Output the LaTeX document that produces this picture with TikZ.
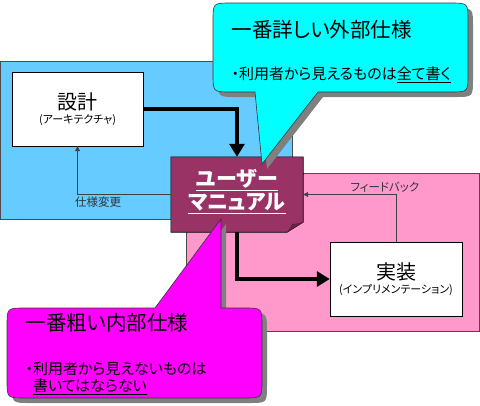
\documentclass[tikz,border=0pt]{standalone}
\usepackage{fontspec}
\usepackage{tikz}
\usetikzlibrary{arrows.meta,shadows}
\newfontfamily\jp[RawFeature=+palt]{Noto Sans CJK JP}
\definecolor{designblue}{RGB}{102,204,255}
\definecolor{implpink}{RGB}{255,153,204}
\definecolor{manualred}{RGB}{153,51,102}
\definecolor{folddark}{RGB}{102,32,64}
\definecolor{extcyan}{RGB}{0,255,255}
\definecolor{intmagenta}{RGB}{255,0,255}

\begin{document}
\begin{tikzpicture}[x=1pt, y=-1pt, font=\jp,
    box/.style={draw, fill=white, minimum width=131pt, minimum height=74pt, align=center, inner sep=0pt, font=\jp\fontsize{11}{13}\selectfont},
    flow/.style={-{Triangle[length=13pt,width=15pt]}, line width=4pt},
    back/.style={-{Triangle[length=5pt,width=5pt]}, line width=0.8pt, black!75},
    loopnote/.style={text=black!80, inner sep=2pt, font=\jp\fontsize{11.5}{12}\selectfont},
    callout/.style={draw=black!80, line width=0.6pt, drop shadow={shadow xshift=5pt, shadow yshift=-5pt, fill=black!50, opacity=1}},
    bigtext/.style={anchor=west, font=\jp\fontsize{20.5}{24}\selectfont},
    notetext/.style={anchor=west, align=left, font=\jp\fontsize{15}{17}\selectfont}]
    \useasboundingbox (0,0) rectangle (480,405);
    \fill[white] (0,0) rectangle (480,405);
    % Areas
    \draw[black!70, fill=designblue] (0.5,61) rectangle (292,219);
    \draw[black!70, fill=implpink] (186,173) rectangle (479,331);
    % Boxes
    \node[box] (sekkei) at (77.5,109) {{\fontsize{20}{20}\selectfont 設計}\\[1.5pt](アーキテクチャ)};
    \node[box, minimum width=132pt] (jisso) at (396,279) {{\fontsize{20}{20}\selectfont 実装}\\[1.5pt](インプリメンテーション)};
    \node[minimum width=132pt, minimum height=75pt] (manual) at (237,194.5) {};
    \filldraw[fill=manualred, draw=black, line width=0.6pt] (manual.north west) -- (manual.north east)
        -- ([yshift=10pt]manual.south east) -- ([xshift=-16pt]manual.south east) -- (manual.south west) -- cycle;
    \fill[folddark] ([xshift=-16pt]manual.south east) -- ([xshift=-11pt,yshift=8pt]manual.south east)
        -- ([yshift=10pt]manual.south east) -- cycle;
    \node[text=white, align=center, font=\jp\bfseries\fontsize{21}{23}\selectfont] (manualtext) at ([yshift=3pt]manual.center)
        {\underline{ユーザー}\\\underline{マニュアル}};
    % Connectors
    \draw[flow] (sekkei.east) -| (manual.north);
    \draw[flow] (manual.south) |- (jisso.west);
    \draw[back] (manual.west) -| (sekkei.south) node[loopnote, pos=0.39, below] {仕様変更};
    \draw[back] (jisso.north) |- (manual.east) node[loopnote, pos=0.56, above] {フィードバック};
    % Callout: external spec
    \path[callout, fill=extcyan] (255,92) -- (262,164) -- (318,92) -- (450,92) .. controls (468,92) .. (468,74)
        -- (468,21) .. controls (468,3) .. (450,3) -- (231,3) .. controls (213,3) .. (213,21)
        -- (213,74) .. controls (213,92) .. (231,92) -- cycle;
    \node[bigtext] (exttitle) at (228,30) {一番詳しい外部仕様};
    \node[notetext] (extnote) at (228,75) {・利用者から見えるものは\underline{全て書く}};
    % Callout: internal spec
    \path[callout, fill=intmagenta] (155,308) -- (221,219) -- (221,308) -- (244,308) .. controls (262,308) .. (262,326)
        -- (262,380) .. controls (262,398) .. (244,398) -- (25,398) .. controls (7,398) .. (7,380)
        -- (7,326) .. controls (7,308) .. (25,308) -- cycle;
    \node[bigtext] (inttitle) at (22,323) {一番粗い内部仕様};
    \node[notetext] (intnote) at (22,378) {・利用者から見えないものは\\\phantom{・}\underline{書いてはならない}};
\end{tikzpicture}
\end{document}
